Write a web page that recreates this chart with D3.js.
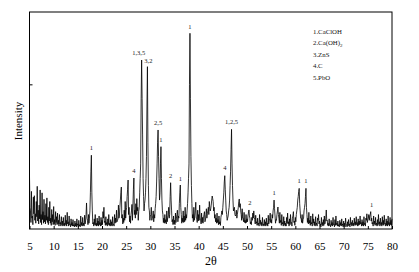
<!DOCTYPE html>
<html><head><meta charset="utf-8">
<script src="https://cdn.jsdelivr.net/npm/d3@7"></script>
<style>
html,body{margin:0;padding:0;background:#fff;}
svg{display:block;font-family:"Liberation Serif","Times New Roman",serif;}
</style></head>
<body>
<svg id="chart" width="419" height="272"></svg>
<script>
// 2θ axis: start and step of the intensity readings
const thetaStart = 5;
const thetaStep = 0.1;
// intensity readings (counts), one per 0.1° from 5° to 80° (one row per degree)
const intensity = [
  720,300, 250,90, 520,150, 180,60, 440,210,
  460,120, 210,80, 380,170, 590,110, 260,70,
  330,140, 540,90, 200,60, 500,130, 240,80,
  410,100, 190,70, 350,120, 430,90, 170,60,
  300,110, 380,80, 150,50, 270,100, 200,60,
  310,70, 130,50, 240,90, 170,60, 220,70,
  120,40, 200,70, 90,40, 170,60, 110,40,
  160,50, 80,40, 190,60, 120,40, 230,70,
  100,40, 180,60, 70,30, 140,50, 90,40,
  130,40, 60,30, 110,40, 80,30, 140,50,
  70,30, 120,40, 60,30, 180,50, 90,40,
  160,50, 80,40, 190,70, 110,200, 360,150,
  120,60, 200,80, 150,250, 500,800, 1020,500,
  250,70, 90,40, 140,60, 200,50, 80,40,
  150,50, 110,40, 180,60, 90,40, 160,50,
  120,60, 240,150, 300,90, 110,50, 170,60,
  90,40, 140,60, 200,50, 80,40, 130,50,
  100,40, 170,60, 70,40, 200,80, 150,90,
  260,100, 120,140, 330,150, 180,300, 400,500,
  580,150, 200,70, 150,90, 260,120, 380,150,
  250,300, 450,550, 677,200, 300,100, 180,80,
  200,250, 340,120, 320,550, 705,200, 260,150,
  350,200, 420,250, 300,120, 240,300, 500,700,
  900,1800, 2336,1800, 1300,700, 450,250, 350,400,
  500,700, 1000,1700, 2244,1200, 600,300, 250,120,
  180,200, 300,120, 150,180, 250,100, 200,150,
  280,350, 450,650, 900,1200, 1369,1000, 700,400,
  500,900, 1138,700, 400,250, 200,90, 150,80,
  200,90, 130,70, 250,100, 160,180, 300,150,
  200,450, 640,400, 250,100, 130,60, 180,70,
  120,60, 220,90, 150,200, 260,100, 180,150,
  350,500, 608,300, 200,80, 150,100, 250,90,
  180,100, 300,120, 200,150, 250,350, 500,700,
  900,2000, 2706,1800, 1000,600, 350,150, 200,100,
  300,120, 180,250, 370,150, 150,90, 260,110,
  200,120, 330,150, 140,70, 220,90, 160,80,
  150,200, 240,100, 120,200, 280,150, 210,250,
  300,200, 380,300, 250,280, 330,400, 456,420,
  380,250, 300,150, 200,100, 150,80, 220,90,
  130,60, 180,70, 100,50, 160,200, 250,200,
  300,400, 500,650, 737,550, 400,250, 200,120,
  150,180, 250,300, 400,600, 800,1100, 1378,900,
  600,400, 250,280, 300,200, 180,200, 260,150,
  200,250, 300,380, 415,300, 350,250, 200,120,
  280,150, 150,100, 230,90, 120,80, 200,90,
  140,100, 180,220, 263,180, 150,70, 100,60,
  160,120, 220,150, 250,160, 130,70, 190,80,
  100,50, 150,60, 80,40, 200,70, 120,50,
  90,40, 160,60, 70,40, 130,50, 100,40,
  150,60, 80,40, 190,70, 110,150, 220,90,
  130,80, 200,150, 250,300, 400,280, 180,80,
  130,120, 200,250, 304,200, 150,80, 230,90,
  120,50, 200,70, 90,40, 170,60, 110,40,
  80,40, 160,80, 220,70, 100,40, 140,60,
  200,80, 90,40, 150,180, 240,90, 110,50,
  160,100, 200,250, 300,400, 450,520, 562,350,
  250,150, 150,90, 200,80, 130,150, 250,300,
  350,450, 562,300, 200,90, 150,70, 230,80,
  120,50, 180,70, 90,40, 210,80, 140,50,
  100,40, 170,60, 80,40, 150,120, 200,70,
  110,40, 70,30, 160,60, 90,40, 130,50,
  180,70, 100,150, 263,110, 120,50, 80,40,
  140,50, 60,30, 120,50, 90,40, 160,60,
  70,30, 130,50, 180,60, 80,40, 110,40,
  60,30, 120,50, 90,40, 140,50, 70,30,
  110,40, 80,30, 150,60, 60,30, 100,40,
  130,50, 70,30, 160,60, 90,40, 120,50,
  80,40, 150,60, 100,50, 170,60, 90,40,
  140,50, 110,60, 180,70, 90,40, 130,50,
  100,40, 170,60, 80,40, 150,120, 210,90,
  130,150, 200,120, 180,200, 240,110, 150,70,
  90,40, 180,70, 110,50, 160,60, 80,40,
  130,50, 200,70, 100,40, 150,60, 90,40,
  170,60, 120,50, 190,70, 80,40, 140,50,
  110,40, 180,60, 90,40, 160,60, 120,50,
  140
];
// peak annotations: label, 2θ, intensity at which the label sits
const peakLabels = ["1", "4", "1,3,5", "3,2", "2,5", "1", "2", "1", "1", "4", "1,2,5", "2", "1", "1", "1", "1"];
const peakTheta  = [17.8, 26.6, 27.6, 29.6, 31.6, 32.2, 34.2, 36.2, 38.2, 45.4, 46.8, 50.6, 55.6, 60.8, 62.2, 75.8];
const peakLevel  = [1090, 780, 2400, 2300, 1440, 1200, 710, 670, 2770, 810, 1450, 330, 470, 630, 630, 310];
const legendItems = ["1.CaClOH", "2.Ca(OH)2", "3.ZnS", "4.C", "5.PbO"];
const xTicks = [5, 10, 15, 20, 25, 30, 35, 40, 45, 50, 55, 60, 65, 70, 75, 80];
const yTicks = [2000];
const xTitle = "2θ";
const yTitle = "Intensity";

const svg = d3.select("#chart");
const L = 29.5, T = 12, R = 392, B = 229;
const x = d3.scaleLinear().domain([5, 80]).range([L, R]);
const y = d3.scaleLinear().domain([0, 3000]).range([B, T]);

const pts = intensity.map((v, i) => [thetaStart + i * thetaStep, v]);

svg.append("path")
  .datum(pts)
  .attr("fill", "none")
  .attr("stroke", "#000")
  .attr("stroke-width", 0.8)
  .attr("d", d3.line().x(d => x(d[0])).y(d => y(d[1])));

// frame
svg.append("rect").attr("x", L).attr("y", T).attr("width", R - L).attr("height", B - T)
  .attr("fill", "none").attr("stroke", "#000").attr("stroke-width", 1);

// x axis
const xa = svg.append("g").attr("transform", `translate(0,${B})`)
  .call(d3.axisBottom(x).tickValues(xTicks).tickSizeInner(-3).tickSizeOuter(0).tickPadding(13));
xa.select(".domain").remove();
xa.selectAll("text").attr("font-size", 11).attr("font-family", "Liberation Serif").attr("fill", "#000");

// y axis
const ya = svg.append("g").attr("transform", `translate(${L},0)`)
  .call(d3.axisLeft(y).tickValues(yTicks).tickSizeInner(-3).tickSizeOuter(0).tickFormat(""));
ya.select(".domain").remove();

svg.append("text").attr("x", (L + R) / 2 + 0).attr("y", 265).attr("text-anchor", "middle")
  .attr("font-size", 12).text(xTitle);
svg.append("text").attr("transform", `translate(22,121) rotate(-90)`).attr("text-anchor", "middle")
  .attr("font-size", 11).text(yTitle);

// peak labels
svg.append("g").selectAll("text").data(peakLabels).join("text")
  .attr("x", (d, i) => x(peakTheta[i]))
  .attr("y", (d, i) => y(peakLevel[i]))
  .attr("text-anchor", "middle")
  .attr("font-size", 6.5)
  .attr("fill", "#222")
  .text(d => d);

// legend
const lg = svg.append("g").selectAll("text").data(legendItems).join("text")
  .attr("x", 313)
  .attr("y", (d, i) => 33.5 + i * 11.5)
  .attr("font-size", 6.8)
  .attr("fill", "#111");
lg.each(function(d) {
  const t = d3.select(this);
  const m = d.match(/^(.*\()(\w+)(\))(\d)$/);
  if (m) {
    t.append("tspan").text(m[1] + m[2] + m[3]);
    t.append("tspan").attr("font-size", 5).attr("dy", 1.5).text(m[4]);
  } else t.text(d);
});
</script>
</body></html>
